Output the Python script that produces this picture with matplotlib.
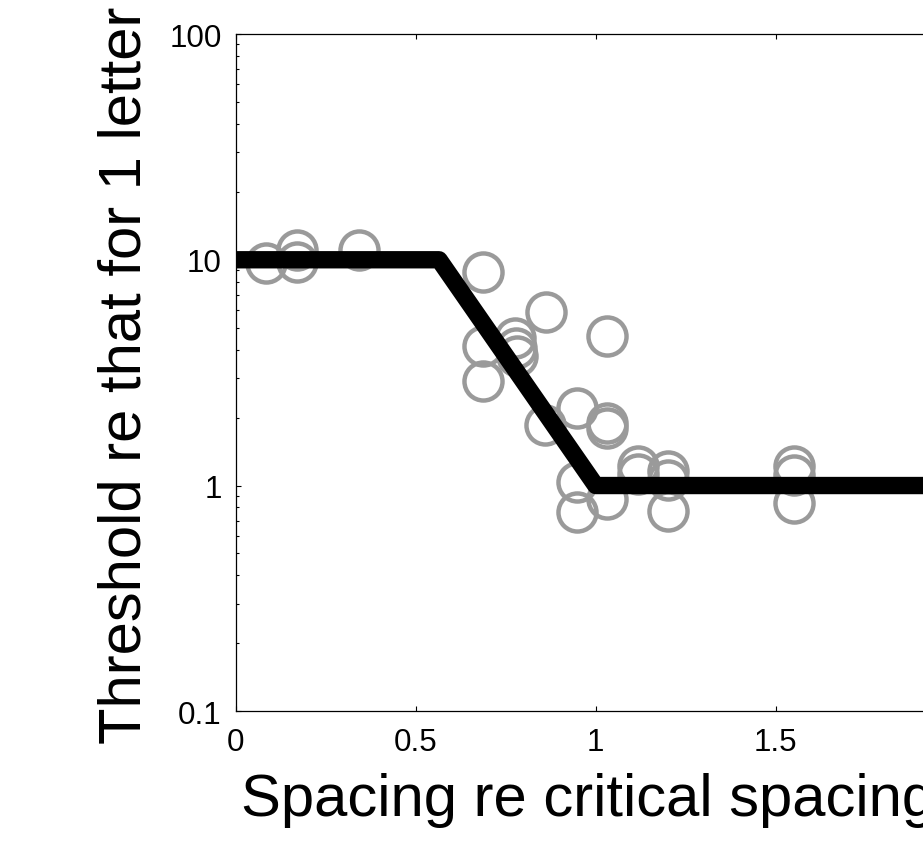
import matplotlib
matplotlib.use("Agg")
import matplotlib.pyplot as plt
from matplotlib.ticker import LogLocator, NullFormatter, FixedLocator, FixedFormatter

plt.rcParams['font.family'] = ['Liberation Sans', 'DejaVu Sans']

# Measured thresholds (relative to single-letter threshold) vs. letter spacing
spacing = [0.083, 0.169, 0.169, 0.342,
           0.688, 0.688, 0.688, 0.776, 0.778, 0.780, 0.861, 0.859,
           0.947, 0.947, 0.947, 1.031, 1.031, 1.031, 1.031,
           1.118, 1.118, 1.202, 1.202, 1.202,
           1.552, 1.552, 1.552]
threshold = [9.7, 11.0, 9.8, 11.0,
             8.8, 4.15, 2.9, 4.5, 4.05, 3.75, 5.85, 1.85,
             2.2, 1.04, 0.76, 4.6, 1.9, 1.8, 0.87,
             1.22, 1.12, 1.16, 1.06, 0.77,
             1.22, 1.11, 0.84]

# Piecewise model: flat, log-linear drop, flat
fit_spacing = [0.0, 0.565, 1.0, 2.0]
fit_threshold = [10.0, 10.0, 1.0, 1.0]

x_ticks = [0, 0.5, 1, 1.5, 2]
x_tick_labels = ['0', '0.5', '1', '1.5', '2']
y_ticks = [0.1, 1, 10, 100]
y_tick_labels = ['0.1', '1', '10', '100']

W, H = 923, 854
fig = plt.figure(figsize=(W / 100, H / 100), dpi=100)
left, right, top, bottom = 235.7, 955.7, 35.0, 712.3
ax = fig.add_axes([left / W, (H - bottom) / H, (right - left) / W, (bottom - top) / H])

ax.plot(spacing, threshold, linestyle='none', marker='o', markersize=27.4,
        markerfacecolor='none', markeredgecolor='#9a9a9a', markeredgewidth=3.2,
        zorder=2, clip_on=False)
ax.plot(fit_spacing, fit_threshold, color='black', linewidth=12.5,
        solid_joinstyle='round', solid_capstyle='butt', zorder=3)

ax.set_yscale('log')
ax.set_xlim(0, 2)
ax.set_ylim(0.1, 100)

ax.xaxis.set_major_locator(FixedLocator(x_ticks))
ax.xaxis.set_major_formatter(FixedFormatter(x_tick_labels))
ax.yaxis.set_major_locator(FixedLocator(y_ticks))
ax.yaxis.set_major_formatter(FixedFormatter(y_tick_labels))
ax.yaxis.set_minor_locator(LogLocator(base=10, subs=range(2, 10)))
ax.yaxis.set_minor_formatter(NullFormatter())

ax.tick_params(which='both', direction='in', top=True, right=True,
               width=0.8, labelsize=22.6, colors='black')
ax.tick_params(which='major', length=3.6)
ax.tick_params(which='minor', length=2.2)
ax.tick_params(axis='x', which='major', pad=11.5)
ax.tick_params(axis='y', which='major', pad=10)

for s in ax.spines.values():
    s.set_linewidth(0.9)

ax.set_xlabel('Spacing re critical spacing', fontsize=43)
ax.set_ylabel('Threshold re that for 1 letter', fontsize=43)
ax.xaxis.set_label_coords(0.489, -0.089)
ax.yaxis.set_label_coords(-0.116, 0.497)

fig.savefig('out.png', dpi=100)
